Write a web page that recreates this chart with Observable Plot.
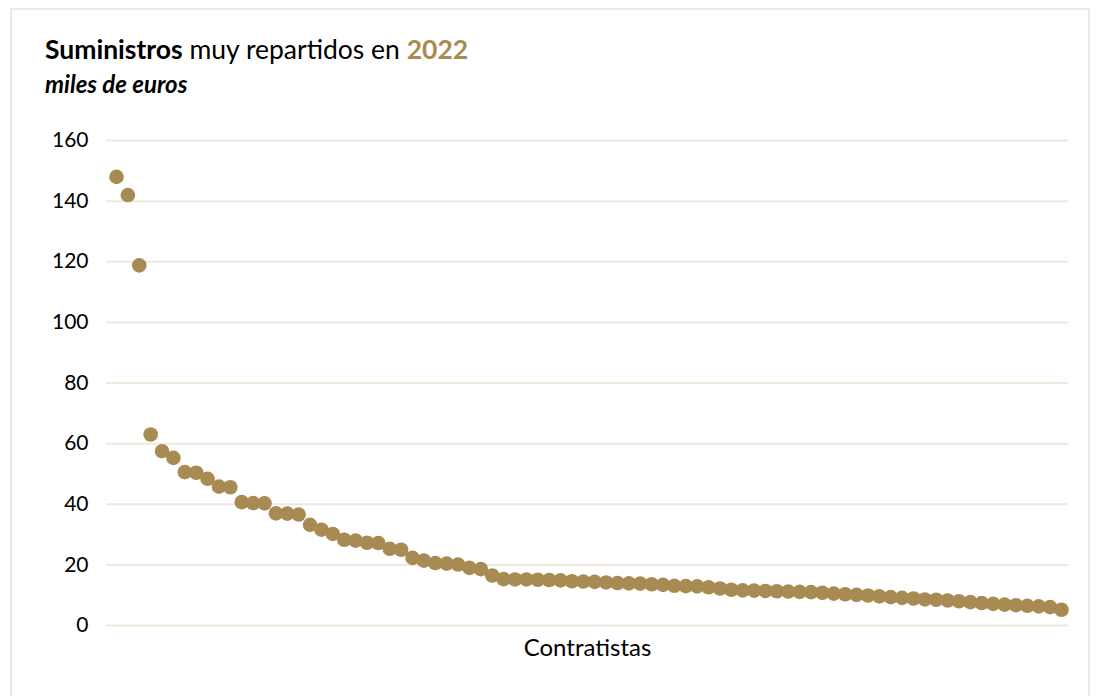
<!DOCTYPE html>
<html>
<head>
<meta charset="utf-8">
<script src="https://cdn.jsdelivr.net/npm/d3@7"></script>
<script src="https://cdn.jsdelivr.net/npm/@observablehq/plot@0.6"></script>
<style>
  html, body { margin: 0; padding: 0; background: #fff; }
  #wrap { position: relative; width: 1101px; height: 696px; overflow: hidden; font-family: Lato, "Open Sans", sans-serif; }
  #frame { position: absolute; left: 10px; top: 8px; width: 1080px; height: 690px; border: 2px solid #efeadf; box-sizing: border-box; }
  #title { position: absolute; left: 45px; top: 36px; font-size: 26.5px; line-height: 26px; color: #000; white-space: nowrap; }
  #title b.gold { color: #a88b52; }
  #subtitle { position: absolute; left: 45px; top: 72px; font-size: 24px; line-height: 24px; font-weight: bold; font-style: italic; color: #000; white-space: nowrap; }
  #chart { position: absolute; left: 0; top: 0; }
</style>
</head>
<body>
<div id="wrap">
  <div id="frame"></div>
  <div id="chart"></div>
  <div id="title"><b>Suministros</b> muy repartidos en <b class="gold">2022</b></div>
  <div id="subtitle">miles de euros</div>
</div>
<script>
const values = [
  148.0, 142.0, 118.8, 63.0, 57.5, 55.3, 50.6, 50.4, 48.4, 45.8,
  45.6, 40.7, 40.4, 40.3, 37.0, 36.9, 36.6, 33.2, 31.6, 30.2,
  28.3, 28.0, 27.3, 27.2, 25.3, 25.0, 22.3, 21.4, 20.6, 20.4,
  20.1, 19.0, 18.6, 16.5, 15.3, 15.2, 15.2, 15.1, 15.0, 14.9,
  14.6, 14.5, 14.4, 14.2, 14.0, 13.9, 13.8, 13.6, 13.4, 13.1,
  13.0, 12.9, 12.6, 12.2, 11.8, 11.6, 11.5, 11.4, 11.3, 11.2,
  11.1, 11.0, 10.8, 10.5, 10.3, 10.1, 9.9, 9.6, 9.35, 9.1,
  8.9, 8.6, 8.5, 8.25, 8.0, 7.7, 7.4, 7.15, 6.9, 6.7,
  6.5, 6.3, 6.05, 5.2
];
const yTicks = [0, 20, 40, 60, 80, 100, 120, 140, 160];
const xLabel = "Contratistas";

const data = values.map((v, i) => ({i, v}));

const chart = Plot.plot({
  width: 1101,
  height: 696,
  marginTop: 140,
  marginBottom: 71,
  marginLeft: 106,
  marginRight: 33,
  insetLeft: 10,
  insetRight: 7,
  style: { fontFamily: "Lato, 'Open Sans', sans-serif", fontSize: "21px", color: "#000", background: "transparent" },
  x: { domain: [0, values.length - 1], axis: null },
  y: { domain: [0, 160], ticks: yTicks, tickSize: 0, tickPadding: 18, label: null },
  marks: [
    Plot.ruleY(yTicks, { stroke: "#efe9dd", strokeWidth: 2 }),
    Plot.axisY(yTicks, { tickSize: 0, tickPadding: 18, fontSize: 21, fill: "#000", label: null }),
    Plot.dot(data, { x: "i", y: "v", r: 7.3, fill: "#a88b52", stroke: "none" }),
    Plot.text([xLabel], { frameAnchor: "bottom", dy: 23, lineAnchor: "middle", fontSize: 24, fill: "#000" })
  ]
});
document.getElementById("chart").appendChild(chart);
</script>
</body>
</html>
